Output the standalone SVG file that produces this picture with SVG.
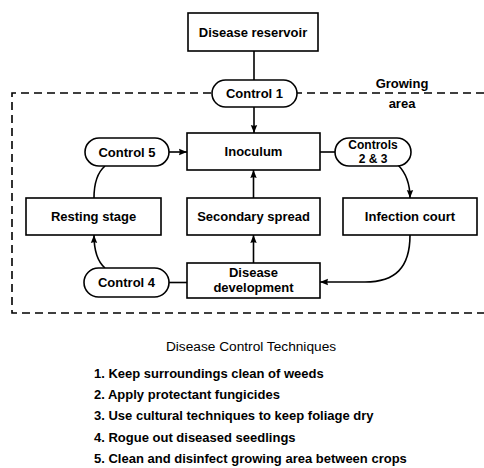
<svg xmlns="http://www.w3.org/2000/svg" width="484" height="468" viewBox="0 0 484 468">
<style>
.box{fill:#fff;stroke:#000;stroke-width:1.6}
.pill{fill:#fff;stroke:#000;stroke-width:1.6}
.ln{fill:none;stroke:#000;stroke-width:1.6}
.dash{fill:none;stroke:#000;stroke-width:1.6;stroke-dasharray:8 5}
.lbl{font-family:"Liberation Sans",Arial,sans-serif;font-size:13px;font-weight:bold;text-anchor:middle;fill:#000}
.sm{font-size:12px}
.ttl{font-family:"Liberation Sans",Arial,sans-serif;font-size:13.7px;fill:#000;text-anchor:middle}
.item{font-family:"Liberation Sans",Arial,sans-serif;font-size:13px;font-weight:bold;fill:#000}
</style>
<defs>
<marker id="ah" markerUnits="userSpaceOnUse" markerWidth="9" markerHeight="8" refX="8" refY="4" orient="auto">
<path d="M0,0.8 L8,4 L0,7.2 Q1.5,4 0,0.8 z" fill="#000"/>
</marker>
</defs>
<g id="growing-area">
<path class="dash" d="M484 93 L12 93 L12 313 L484 313"/>
<text class="lbl" x="402" y="88">Growing</text>
<text class="lbl" x="402" y="108">area</text>
</g>
<g id="connectors">
<path class="ln" d="M254 51 L254 80"/>
<path class="ln" d="M254 107 L254 133" marker-end="url(#ah)"/>
<path class="ln" d="M169 152 L187 152" marker-end="url(#ah)"/>
<path class="ln" d="M320 152 L335 152"/>
<path class="ln" d="M398 165 C406 173 410 184 410 198" marker-end="url(#ah)"/>
<path class="ln" d="M410 235 C410 268 395 282 365 282 L320 282" marker-end="url(#ah)"/>
<path class="ln" d="M253.5 263 L253.5 235" marker-end="url(#ah)"/>
<path class="ln" d="M253.5 198 L253.5 170" marker-end="url(#ah)"/>
<path class="ln" d="M169 282.5 L187 282.5"/>
<path class="ln" d="M94 198 C94 181 98 172 105 166"/>
<path class="ln" d="M105 268 C98 262 94 252 94 235" marker-end="url(#ah)"/>
</g>
<g id="disease-reservoir">
<rect class="box" x="188" y="13" width="130" height="38"/>
<text class="lbl" x="253" y="36.5">Disease reservoir</text>
</g>
<g id="control-1">
<rect class="pill" x="212" y="80" width="85" height="27" rx="13.5"/>
<text class="lbl" x="254.5" y="98">Control 1</text>
</g>
<g id="inoculum">
<rect class="box" x="187" y="133" width="133" height="37"/>
<text class="lbl" x="253.5" y="156">Inoculum</text>
</g>
<g id="control-5">
<rect class="pill" x="85" y="138" width="84" height="28" rx="14"/>
<text class="lbl" x="127" y="156.5">Control 5</text>
</g>
<g id="controls-2-3">
<rect class="pill" x="335" y="138" width="76" height="28" rx="14"/>
<text class="lbl sm" x="373" y="149">Controls</text>
<text class="lbl sm" x="373" y="163">2 &amp; 3</text>
</g>
<g id="resting-stage">
<rect class="box" x="26" y="198" width="135" height="37"/>
<text class="lbl" x="93.5" y="221">Resting stage</text>
</g>
<g id="secondary-spread">
<rect class="box" x="187" y="198" width="133" height="37"/>
<text class="lbl" x="253.5" y="221">Secondary spread</text>
</g>
<g id="infection-court">
<rect class="box" x="343" y="198" width="134" height="37"/>
<text class="lbl" x="410" y="221">Infection court</text>
</g>
<g id="disease-development">
<rect class="box" x="187" y="263" width="133" height="35"/>
<text class="lbl" x="253.5" y="277">Disease</text>
<text class="lbl" x="253.5" y="292">development</text>
</g>
<g id="control-4">
<rect class="pill" x="84" y="268" width="85" height="29" rx="14.5"/>
<text class="lbl" x="126.5" y="287">Control 4</text>
</g>
<g id="legend">
<text class="ttl" x="251" y="351">Disease Control Techniques</text>
<text class="item" x="94" y="378">1. Keep surroundings clean of weeds</text>
<text class="item" x="94" y="399">2. Apply protectant fungicides</text>
<text class="item" x="94" y="420">3. Use cultural techniques to keep foliage dry</text>
<text class="item" x="94" y="442">4. Rogue out diseased seedlings</text>
<text class="item" x="94" y="463">5. Clean and disinfect growing area between crops</text>
</g>
</svg>
